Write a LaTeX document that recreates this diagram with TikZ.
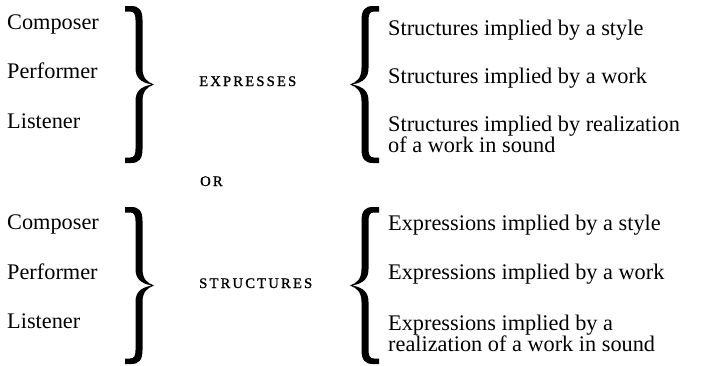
\documentclass[tikz,border=0pt]{standalone}
\usepackage{fontspec}
\setmainfont{Liberation Serif}
\newfontfamily\capsfont[LetterSpace=15,FakeBold=1.2]{Liberation Serif}
\begin{document}
\begin{tikzpicture}[x=1bp,y=-1bp,
  txt/.style={anchor=base west,inner sep=0pt,align=left,
    font=\fontsize{22.3bp}{21bp}\selectfont},
  verb/.style={anchor=base west,inner sep=0pt,
    font=\capsfont\fontsize{14.6bp}{14.6bp}\selectfont},
  rbrc/.pic={
    \fill (0,0) -- (6,0) .. controls (14,0) and (17.5,4) .. (17.5,14)
      -- (17.5,62) .. controls (17.5,72) and (22,76) .. (29,78.5)
      .. controls (22,81) and (17.5,85) .. (17.5,95)
      -- (17.5,143) .. controls (17.5,153) and (14,157) .. (6,157)
      -- (0,157) -- (0,151.5) -- (5,151.5)
      .. controls (9,151.5) and (10.5,149) .. (10.5,143)
      -- (10.5,95) .. controls (10.5,86) and (15,80.5) .. (27,78.5)
      .. controls (15,76.5) and (10.5,71) .. (10.5,62)
      -- (10.5,14) .. controls (10.5,8) and (9,5.5) .. (5,5.5)
      -- (0,5.5) -- cycle;
  }]
\useasboundingbox (0,0) rectangle (707,365);

% first group
\node[txt] (comp1) at (7,29) {Composer};
\node[txt] (perf1) at (7,78.5) {Performer};
\node[txt] (list1) at (7,128) {Listener};
\pic at (125,6) {rbrc};
\node[verb] (expr) at (199,86) {EXPRESSES};
\pic[xscale=-1] at (379,6) {rbrc};
\node[txt] (sty1) at (388,35) {Structures implied by a style};
\node[txt] (wrk1) at (388,83.5) {Structures implied by a work};
\node[txt] (snd1) at (388,152.5) {Structures implied by realization\\of a work in sound};

\node[verb] (or) at (200,186) {OR};

% second group
\node[txt] (comp2) at (7,229) {Composer};
\node[txt] (perf2) at (7,279) {Performer};
\node[txt] (list2) at (7,328) {Listener};
\pic at (125,207) {rbrc};
\node[verb] (strc) at (199,288) {STRUCTURES};
\pic[xscale=-1] at (379,207) {rbrc};
\node[txt] (sty2) at (388,230) {Expressions implied by a style};
\node[txt] (wrk2) at (388,279.5) {Expressions implied by a work};
\node[txt] (snd2) at (388,351) {Expressions implied by a\\realization of a work in sound};

\end{tikzpicture}
\end{document}
